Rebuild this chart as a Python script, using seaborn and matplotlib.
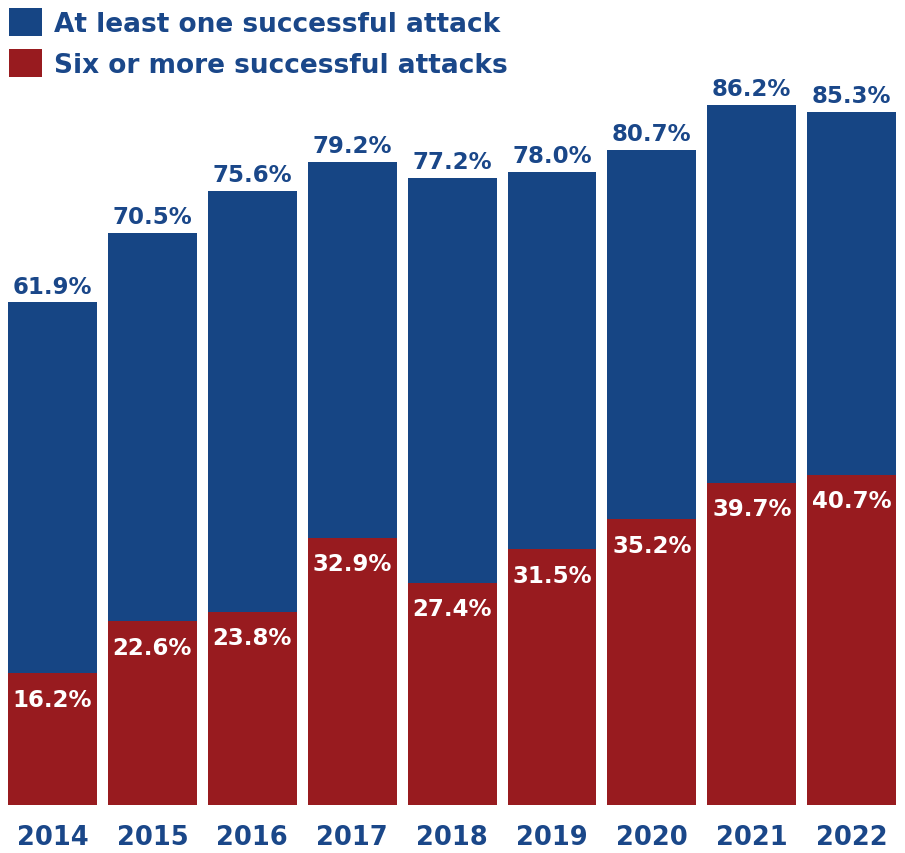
import matplotlib
matplotlib.use("Agg")
import matplotlib.pyplot as plt
from matplotlib.patches import Patch
import seaborn as sns
import pandas as pd

years = ["2014", "2015", "2016", "2017", "2018", "2019", "2020", "2021", "2022"]
at_least_one = [61.9, 70.5, 75.6, 79.2, 77.2, 78.0, 80.7, 86.2, 85.3]
six_or_more = [16.2, 22.6, 23.8, 32.9, 27.4, 31.5, 35.2, 39.7, 40.7]
series_names = ["At least one successful attack", "Six or more successful attacks"]

BLUE = "#164584"
RED = "#981b1f"
TEXT_BLUE = "#1a4789"

df = pd.DataFrame({"year": years, "one": at_least_one, "six": six_or_more})

sns.set_theme(style="white")
plt.rcParams["font.family"] = ["DejaVu Sans"]

fig = plt.figure(figsize=(9.05, 8.54), dpi=100)
ax = fig.add_axes([0, 48 / 854, 1, 806 / 854])

sns.barplot(data=df, x="year", y="one", color=BLUE, width=0.89,
            saturation=1, linewidth=0, ax=ax, order=years)
sns.barplot(data=df, x="year", y="six", color=RED, width=0.89,
            saturation=1, linewidth=0, ax=ax, order=years)

ax.set_xlim(-0.5255, 8.534)
ax.set_ylim(0, 99.26)

for i, (a, s) in enumerate(zip(at_least_one, six_or_more)):
    ax.annotate(f"{a:.1f}%", (i, a), xytext=(0, 3.5), textcoords="offset points",
                ha="center", va="bottom", fontsize=16.5, fontweight="bold",
                color=TEXT_BLUE)
    ax.annotate(f"{s:.1f}%", (i, s), xytext=(0, -10.5), textcoords="offset points",
                ha="center", va="top", fontsize=16.5, fontweight="bold",
                color="white")

ax.set_xlabel("")
ax.set_ylabel("")
ax.set_yticks([])
ax.tick_params(axis="x", length=0, pad=14)
for lbl in ax.get_xticklabels():
    lbl.set_fontsize(18.5)
    lbl.set_fontweight("bold")
    lbl.set_color(TEXT_BLUE)
sns.despine(ax=ax, left=True, bottom=True)

handles = [Patch(facecolor=BLUE, edgecolor="none"), Patch(facecolor=RED, edgecolor="none")]
leg = ax.legend(handles, series_names, loc="upper left",
                bbox_to_anchor=(0.0, 1.0), bbox_transform=fig.transFigure,
                frameon=False, fontsize=19, handlelength=1.25, handleheight=1.25,
                handletextpad=0.45, labelspacing=0.45, borderaxespad=0.0,
                borderpad=0.35)
for t in leg.get_texts():
    t.set_fontweight("bold")
    t.set_color(TEXT_BLUE)

fig.savefig("out.png", dpi=100)
